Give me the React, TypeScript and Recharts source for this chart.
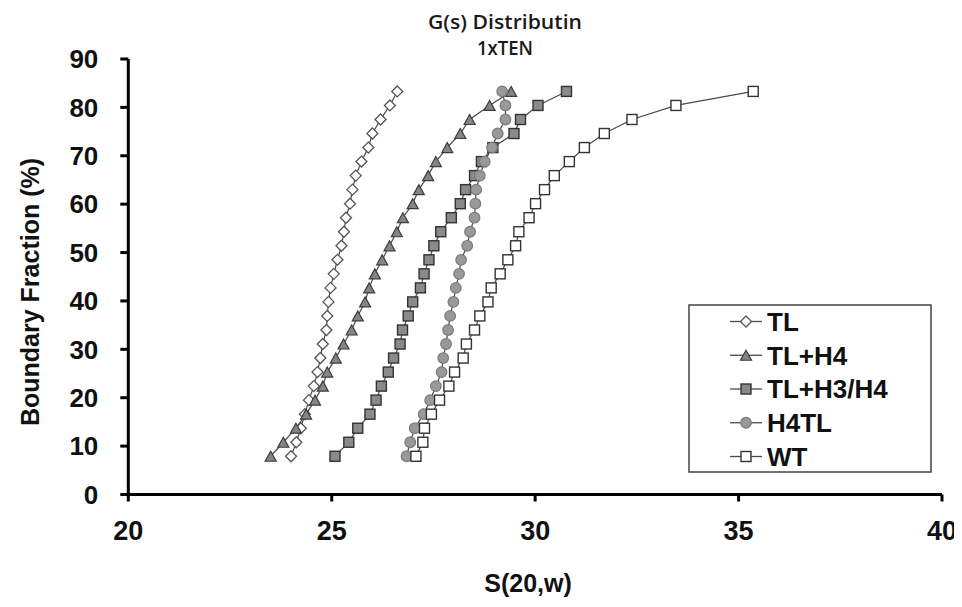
import { ScatterChart, Scatter, XAxis, YAxis, Legend, Customized } from "recharts"

// boundary fraction (%) shared by every series, bottom to top
const boundaryFraction = [
  7.9, 10.8, 13.7, 16.6, 19.5, 22.4, 25.3, 28.2, 31.1, 34.0, 36.9, 39.8, 42.7, 45.6,
  48.5, 51.4, 54.3, 57.2, 60.1, 63.0, 65.9, 68.8, 71.7, 74.6, 77.5, 80.4, 83.3,
]

// S(20,w) per boundary
const tl = [
  24.0, 24.13, 24.24, 24.34, 24.44, 24.56, 24.65, 24.72, 24.78, 24.87, 24.89, 24.92, 24.97, 25.05,
  25.14, 25.24, 25.3, 25.35, 25.45, 25.51, 25.59, 25.73, 25.9, 26.0, 26.2, 26.43, 26.61,
]
const tlH4 = [
  23.5, 23.81, 24.12, 24.37, 24.59, 24.78, 24.89, 25.1, 25.29, 25.49, 25.64, 25.82, 25.92, 26.06,
  26.24, 26.42, 26.6, 26.75, 26.99, 27.14, 27.37, 27.56, 27.84, 28.16, 28.39, 28.88, 29.41,
]
const tlH3H4 = [
  25.08, 25.42, 25.64, 25.94, 26.09, 26.22, 26.39, 26.52, 26.68, 26.74, 26.88, 26.99, 27.18, 27.27,
  27.39, 27.51, 27.68, 27.94, 28.16, 28.29, 28.51, 28.68, 28.96, 29.48, 29.64, 30.07, 30.77,
]
const h4tl = [
  26.84, 26.93, 27.04, 27.26, 27.42, 27.56, 27.7, 27.74, 27.81, 27.86, 27.91, 27.99, 28.05, 28.13,
  28.18, 28.33, 28.4, 28.51, 28.53, 28.55, 28.64, 28.76, 28.94, 29.08, 29.27, 29.27, 29.19,
]
const wt = [
  27.07, 27.24, 27.28, 27.45, 27.65, 27.88, 28.02, 28.23, 28.31, 28.51, 28.64, 28.84, 28.92, 29.14,
  29.33, 29.52, 29.6, 29.85, 30.01, 30.23, 30.47, 30.84, 31.21, 31.7, 32.38, 33.46, 35.36,
]

const xTicks = [20, 25, 30, 35, 40]
const yTicks = [0, 10, 20, 30, 40, 50, 60, 70, 80, 90]

const FONT = "'Liberation Sans', Arial, sans-serif"
const LINE = "#4a4a4a"

const toPoints = (xs: number[]) => xs.map((x, i) => ({ x, y: boundaryFraction[i] }))

type MarkerProps = { cx?: number; cy?: number }

const Diamond = ({ cx = 0, cy = 0 }: MarkerProps) => {
  const r = 5.5
  return (
    <path
      d={`M${cx},${cy - r}L${cx + r},${cy}L${cx},${cy + r}L${cx - r},${cy}Z`}
      fill="#fff"
      stroke="#555"
      strokeWidth={1.3}
    />
  )
}

const Triangle = ({ cx = 0, cy = 0 }: MarkerProps) => {
  const h = 10
  const w = 11
  return (
    <path
      d={`M${cx},${cy - h / 2}L${cx + w / 2},${cy + h / 2}L${cx - w / 2},${cy + h / 2}Z`}
      fill="#858585"
      stroke="#3c3c3c"
      strokeWidth={1.2}
    />
  )
}

const GreySquare = ({ cx = 0, cy = 0 }: MarkerProps) => (
  <rect x={cx - 5} y={cy - 5} width={10} height={10} fill="#8a8a8a" stroke="#333" strokeWidth={1.4} />
)

const Circle = ({ cx = 0, cy = 0 }: MarkerProps) => (
  <circle cx={cx} cy={cy} r={5.3} fill="#999" stroke="#7a7a7a" strokeWidth={1.2} />
)

const WhiteSquare = ({ cx = 0, cy = 0 }: MarkerProps) => (
  <rect x={cx - 5} y={cy - 5} width={10} height={10} fill="#fff" stroke="#333" strokeWidth={1.4} />
)

const series = [
  { name: "TL", data: toPoints(tl), Shape: Diamond },
  { name: "TL+H4", data: toPoints(tlH4), Shape: Triangle },
  { name: "TL+H3/H4", data: toPoints(tlH3H4), Shape: GreySquare },
  { name: "H4TL", data: toPoints(h4tl), Shape: Circle },
  { name: "WT", data: toPoints(wt), Shape: WhiteSquare },
]

const LegendBox = () => (
  <svg width={244} height={169} style={{ display: "block" }}>
    <rect x={1} y={1} width={242} height={167} fill="#fff" stroke="#444" strokeWidth={1.5} />
    {series.map((s, i) => {
      const y = 17.5 + i * 33.75
      return (
        <g key={s.name}>
          <line x1={42} x2={74} y1={y} y2={y} stroke={LINE} strokeWidth={1.3} />
          <s.Shape cx={58} cy={y} />
          <text x={79} y={y} dy="0.36em" fontFamily={FONT} fontWeight="bold" fontSize={26} fill="#111">
            {s.name}
          </text>
        </g>
      )
    })}
  </svg>
)

const titleFont = "'Open Sans', sans-serif"

const Titles = () => (
  <g>
    <text
      x={497}
      y={21}
      textAnchor="middle"
      fontFamily={titleFont}
      fontWeight={600}
      fontSize={19}
      textLength={154}
      lengthAdjust="spacingAndGlyphs"
      fill="#1a1a1a"
    >
      G(s) Distributin
    </text>
    <text
      x={497}
      y={47}
      textAnchor="middle"
      fontFamily={titleFont}
      fontWeight={600}
      fontSize={19}
      textLength={56}
      lengthAdjust="spacingAndGlyphs"
      fill="#1a1a1a"
    >
      1xTEN
    </text>
    <text
      x={22}
      y={284}
      transform="rotate(-90 22 284)"
      textAnchor="middle"
      dominantBaseline="central"
      fontFamily={FONT}
      fontWeight="bold"
      fontSize={25}
      fill="#111"
    >
      Boundary Fraction (%)
    </text>
    <text
      x={520}
      y={575}
      textAnchor="middle"
      dominantBaseline="central"
      fontFamily={FONT}
      fontWeight="bold"
      fontSize={25}
      fill="#111"
    >
      S(20,w)
    </text>
  </g>
)

const xTickStyle = { fill: "#111", fontSize: 27, fontWeight: "bold", fontFamily: FONT }
const yTickStyle = { fill: "#111", fontSize: 26, fontWeight: "bold", fontFamily: FONT }

export default function App() {
  return (
    <ScatterChart width={954} height={599} margin={{ top: 51, right: 20, bottom: 72.5, left: 60.3 }}>
      <XAxis
        type="number"
        dataKey="x"
        domain={[20, 40]}
        ticks={xTicks}
        height={40}
        tickSize={7}
        tickMargin={19}
        axisLine={{ stroke: "#000", strokeWidth: 3 }}
        tickLine={{ stroke: "#000", strokeWidth: 3 }}
        tick={xTickStyle}
      />
      <YAxis
        type="number"
        dataKey="y"
        domain={[0, 90]}
        ticks={yTicks}
        width={60}
        tickSize={8}
        tickMargin={22}
        axisLine={{ stroke: "#000", strokeWidth: 3 }}
        tickLine={{ stroke: "#000", strokeWidth: 3 }}
        tick={yTickStyle}
      />
      {series.map((s) => (
        <Scatter
          key={s.name}
          name={s.name}
          data={s.data}
          line={{ stroke: LINE, strokeWidth: 1.2 }}
          shape={(p: any) => <s.Shape cx={p.cx} cy={p.cy} />}
          isAnimationActive={false}
        />
      ))}
      <Legend
        layout="vertical"
        align="center"
        verticalAlign="middle"
        wrapperStyle={{ left: 680, top: 296, width: 244, height: 169 }}
        content={() => <LegendBox />}
      />
      <Customized component={Titles} />
    </ScatterChart>
  )
}
